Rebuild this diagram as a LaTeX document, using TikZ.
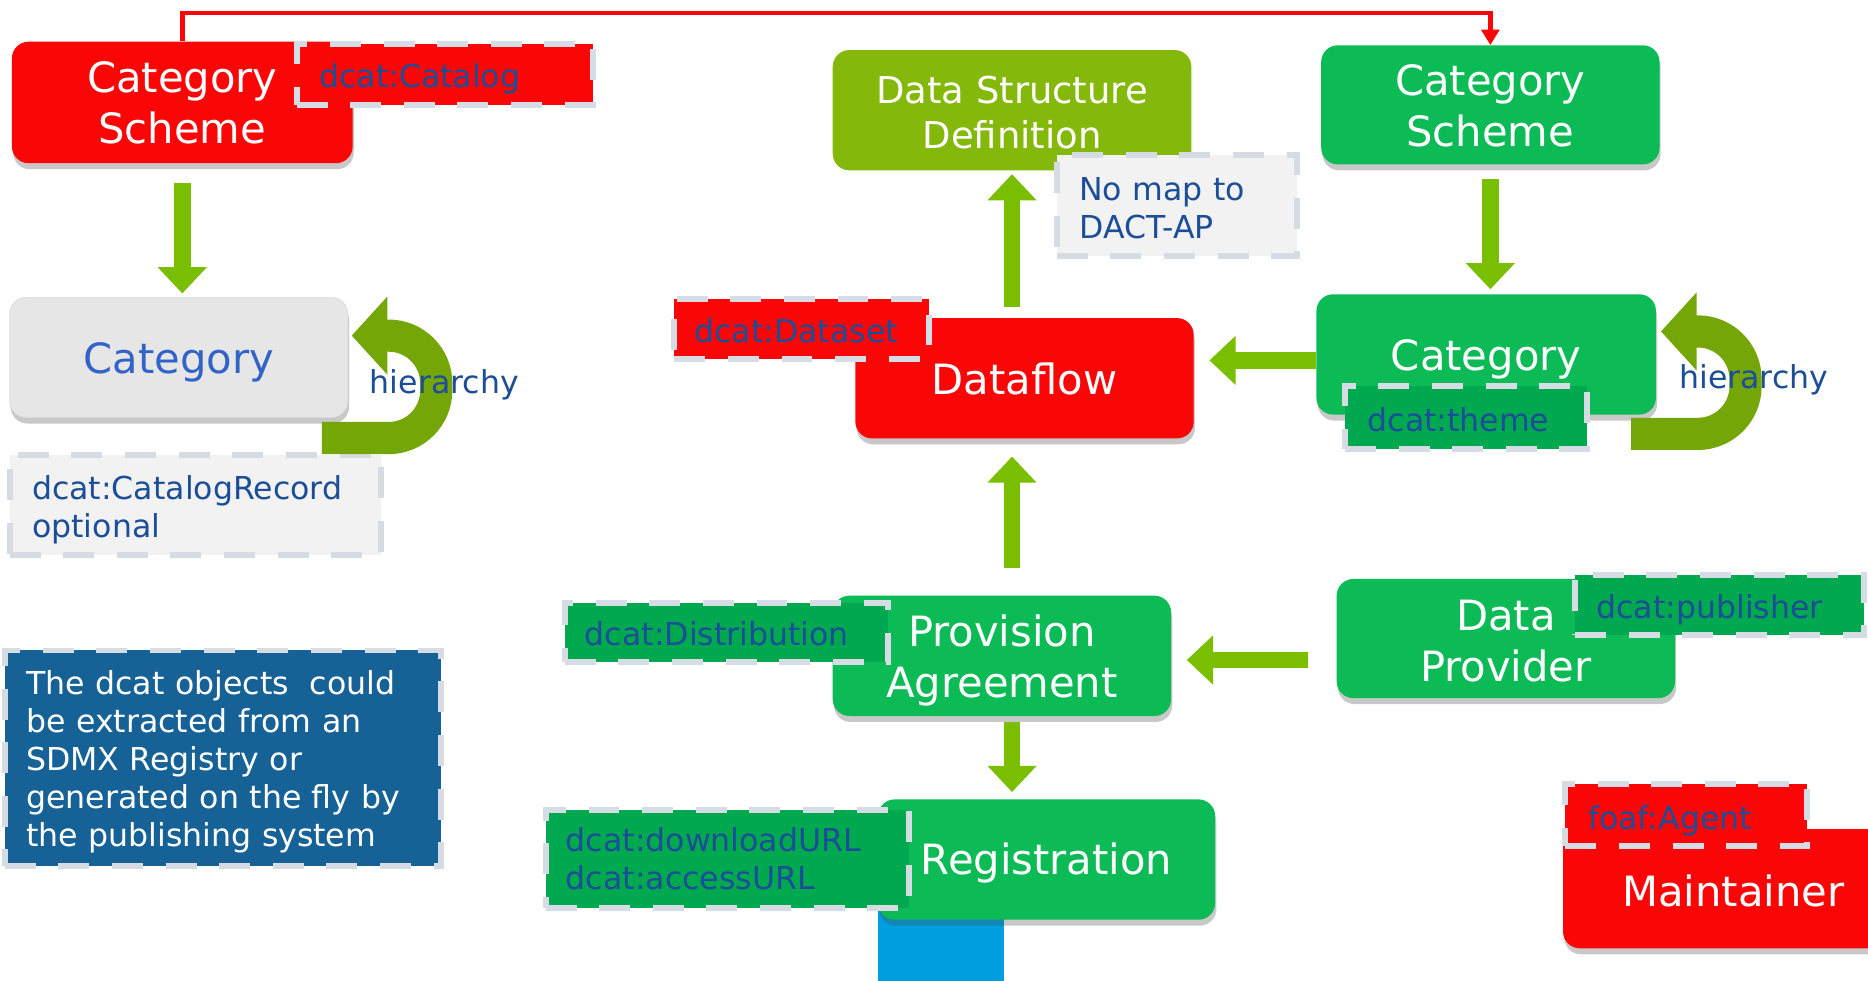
\documentclass[tikz,border=0pt]{standalone}
\usepackage{fontspec}
\setmainfont{DejaVu Sans}
\usetikzlibrary{arrows.meta,shadows}
\definecolor{bred}{RGB}{250,6,6}
\definecolor{bgreen}{RGB}{12,186,86}
\definecolor{dgreen}{RGB}{0,168,80}
\definecolor{olive}{RGB}{132,184,10}
\definecolor{hgreen}{RGB}{116,166,8}
\definecolor{agreen}{RGB}{122,190,0}
\definecolor{dashgray}{RGB}{214,220,228}
\definecolor{notegray}{RGB}{242,242,242}
\definecolor{txtblue}{RGB}{28,78,152}
\definecolor{catblue}{RGB}{50,100,200}
\definecolor{notebox}{RGB}{22,98,150}
\definecolor{cyanbox}{RGB}{0,160,224}
\definecolor{boxgray}{RGB}{230,230,230}
\newcommand\TitleFont{\fontsize{35}{43}\selectfont}
\newcommand\DsdFont{\fontsize{31}{37}\selectfont}
\newcommand\NoteFont{\fontsize{26.5}{32}\selectfont}
\newcommand\Dn[2][3pt]{\raisebox{-#1}[\height][\depth]{#2}}
\begin{document}
\begin{tikzpicture}[x=1pt,y=-1pt,
  box/.style={rounded corners=14pt, minimum width=284pt, minimum height=101pt,
    inner sep=0pt, align=center, font=\TitleFont, text=white,
    drop shadow={shadow xshift=1pt, shadow yshift=-5pt, opacity=.3, fill=black!70}},
  redbox/.style={box, fill=bred},
  greenbox/.style={box, fill=bgreen},
  tag/.style={draw=dashgray, line width=5pt, dash pattern=on 26pt off 19pt,
    inner ysep=0pt, align=left, font=\NoteFont, text=txtblue},
  garrow/.style={line width=14pt, draw=agreen, -{Triangle[width=40pt,length=22pt]}},
  harrow/.style={line width=27pt, draw=hgreen, rounded corners=40pt,
    -{Triangle[width=64pt,length=30pt]}},
  redline/.style={line width=4pt, draw=bred, -{Triangle[width=15pt,length=13pt]}},
  hier/.style={font=\NoteFont, text=txtblue, inner sep=0pt}
]
\clip (0,0) rectangle (1568,823);
\fill[white] (0,0) rectangle (1568,823);

% background shape below Registration
\node[fill=cyanbox, minimum width=106pt, minimum height=70pt, inner sep=0pt] (cy) at (790,795) {};

% main boxes
\node[redbox, minimum width=286pt, minimum height=102pt] (cs1) at (153,86) {Category\\Scheme};
\node[box, fill=boxgray, draw=black!15, text=catblue] (cat1) at (150,300) {\Dn[4pt]{Category}};
\node[rounded corners=14pt, fill=olive, minimum width=301pt, minimum height=101pt,
  inner sep=0pt, align=center, font=\DsdFont, text=white] (dsd) at (849.5,92.5) {\Dn[2pt]{Data Structure}\\\Dn[2pt]{Definition}};
\node[redbox] (df) at (860,317.5) {\Dn[1pt]{Dataflow}};
\node[greenbox, minimum height=100pt] (cs2) at (1251,88) {\Dn[1pt]{Category}\\\Dn[1pt]{Scheme}};
\node[greenbox, minimum width=285pt] (cat2) at (1247.5,297.5) {\Dn[4pt]{Category}};
\node[greenbox] (pa) at (841,550.5) {\Dn[4pt]{Provision}\\\Dn[4pt]{Agreement}};
\node[greenbox, minimum height=100pt] (dp) at (1264,536) {\Dn[2pt]{Data}\\\Dn[2pt]{Provider}};
\node[greenbox, minimum width=283pt] (reg) at (878.5,721.5) {\Dn[3pt]{Registration}};
\node[redbox, minimum width=286pt, minimum height=100pt] (maint) at (1455,746) {\Dn[2pt]{Maintainer}};

% top red connector
\coordinate (top) at (0,11);
\draw[redline] (cs1.north) -- (cs1.north |- top) -- (cs2.north |- top) -- (cs2.north);

% block arrows
\draw[garrow, shorten <=16pt, shorten >=3pt] (cs1.south) -- (cat1.north -| cs1.south);
\draw[garrow, shorten <=12pt, shorten >=4pt] (cs2.south) -- (cat2.north -| cs2.south);
\draw[garrow, shorten <=9pt, shorten >=3pt] (df.north -| dsd.south) -- (dsd.south);
\draw[garrow, shorten <=23pt, shorten >=15pt] (pa.north -| dsd.south) -- (df.south -| dsd.south);
\draw[garrow, shorten >=13pt] ([yshift=-5pt]cat2.west) -- ([yshift=-5pt]cat2.west -| df.east);
\draw[garrow, shorten <=24pt, shorten >=13pt] ([yshift=-3.5pt]dp.west |- pa.east) -- ([yshift=-3.5pt]pa.east);
\draw[garrow, shorten <=5pt, shorten >=6pt] (pa.south -| dsd.south) -- (reg.north -| dsd.south);

% dcat tags
\node[tag, fill=bred, minimum width=249pt, minimum height=51pt, inner xsep=19pt, text width=211pt] (catalog) at (373.5,62.5) {\Dn[4pt]{dcat:Catalog}};
\node[tag, fill=notegray, minimum width=312pt, minimum height=84pt, inner xsep=19pt, text width=274pt] (catrec) at (164,424) {\Dn[4pt]{dcat:CatalogRecord}\\\Dn[4pt]{optional}};
\node[tag, fill=notebox, text=white, minimum width=366pt, minimum height=181pt, inner xsep=18pt, text width=330pt] (note) at (187,636.5) {\Dn{The dcat objects\ \ could}\\\Dn{be extracted from an}\\\Dn{SDMX Registry or}\\\Dn{generated on the fly by}\\\Dn{the publishing system}};
\node[tag, fill=notegray, minimum width=202pt, minimum height=85pt, inner xsep=19pt, text width=164pt] (nomap) at (988,172.5) {\Dn[2pt]{No map to}\\\Dn[2pt]{DACT-AP}};
\node[tag, fill=bred, minimum width=214pt, minimum height=50pt, inner xsep=17pt, text width=180pt] (dataset) at (673,276) {\Dn[2pt]{dcat:Dataset}};
\node[tag, fill=dgreen, minimum width=203pt, minimum height=53pt, inner xsep=19pt, text width=165pt] (theme) at (1230.5,350.5) {\Dn[2pt]{dcat:theme}};
\node[tag, fill=dgreen, minimum width=271pt, minimum height=50pt, inner xsep=17pt, text width=237pt] (distr) at (609.5,531) {\Dn[1pt]{dcat:Distribution}};
\node[tag, fill=dgreen, minimum width=243pt, minimum height=50pt, inner xsep=18pt, text width=207pt] (publ) at (1443.5,508) {\Dn[4pt]{dcat:publisher}};
\node[tag, fill=dgreen, minimum width=305pt, minimum height=82pt, inner xsep=17pt, text width=271pt] (urls) at (610.5,721) {dcat:downloadURL\\dcat:accessURL};
\node[tag, fill=bred, minimum width=203pt, minimum height=52pt, inner xsep=19pt, text width=165pt] (agent) at (1415.5,684) {\Dn[5pt]{foaf:Agent}};

% hierarchy loops
\draw[harrow] (cat1.south east) ++(-22,17) -- ++(96,0) -- ++(0,-86) -- ++(-71,0);
\draw[harrow] (cat2.south east) ++(-21,16) -- ++(96,0) -- ++(0,-86) -- ++(-71,0);
\node[hier] (h1) at (373,323) {hierarchy};
\node[hier] (h2) at (1472,319) {hierarchy};
\end{tikzpicture}
\end{document}
